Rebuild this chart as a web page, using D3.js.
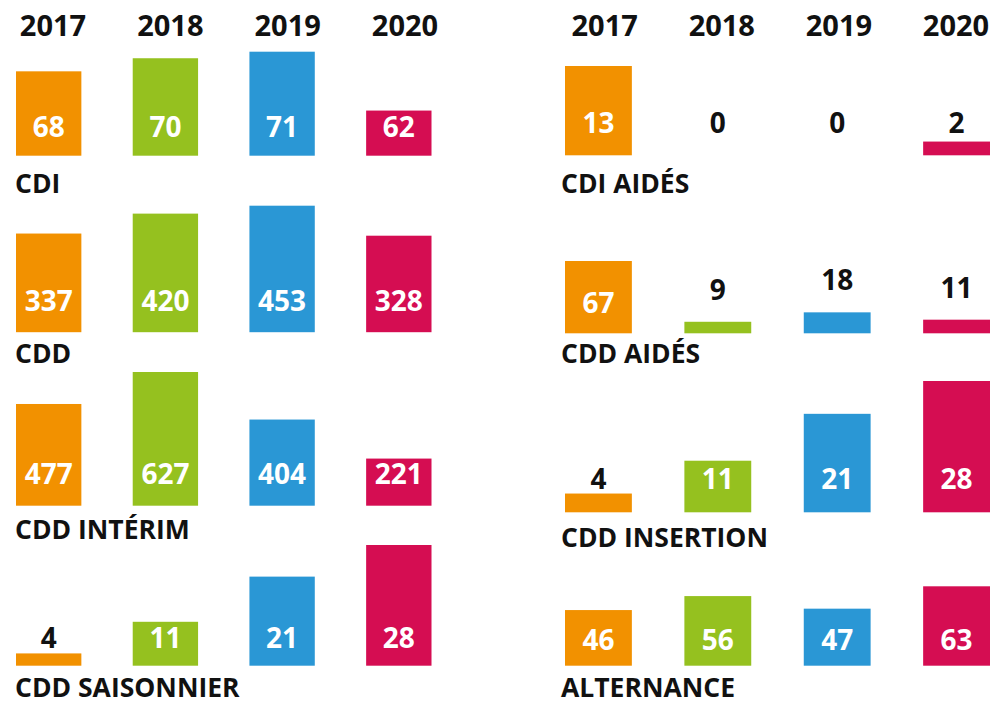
<!DOCTYPE html>
<html>
<head>
<meta charset="utf-8">
<script src="https://cdn.jsdelivr.net/npm/d3@7"></script>
<style>
    body { margin: 0; background: #fff; }
    text { font-family: "Open Sans", "Noto Sans", sans-serif; font-weight: 700; }
</style>
</head>
<body>
<div id="chart"></div>
<script>
// data
const years = ["2017", "2018", "2019", "2020"];
const leftCategories = ["CDI", "CDD", "CDD INTÉRIM", "CDD SAISONNIER"];
const rightCategories = ["CDI AIDÉS", "CDD AIDÉS", "CDD INSERTION", "ALTERNANCE"];

const cdiValues = [68, 70, 71, 62];
const cddValues = [337, 420, 453, 328];
const cddInterimValues = [477, 627, 404, 221];
const cddSaisonnierValues = [4, 11, 21, 28];

const cdiAidesValues = [13, 0, 0, 2];
const cddAidesValues = [67, 9, 18, 11];
const cddInsertionValues = [4, 11, 21, 28];
const alternanceValues = [46, 56, 47, 63];

const yearColors = ["#f29100", "#95c11f", "#2a97d5", "#d50d52"];

// layout (each row has its own vertical scale)
const width = 991, height = 701;

let panels = [
    {
        categories: leftCategories,
        series: [cdiValues, cddValues, cddInterimValues, cddSaisonnierValues],
        barRange: [16, 431.5],
        headerRange: [53, 405],
        labelX: 15,
        bottoms: [155.7, 332.2, 505.7, 665.7],
        labelY: [192.7, 363.3, 539.3, 697],
        axisMin: [55.1, -74, 0, 1.28],
        maxHeight: [104, 126.5, 133.7, 120.7],
        valueOffset: [19, 21, 22, 17.5],
        outsideGap: [5, 5, 5, 5]
    },
    {
        categories: rightCategories,
        series: [cdiAidesValues, cddAidesValues, cddInsertionValues, alternanceValues],
        barRange: [565, 990],
        headerRange: [604.7, 956],
        labelX: 561,
        bottoms: [155.3, 333.3, 512.3, 665.7],
        labelY: [192.7, 363.3, 547.3, 697],
        axisMin: [0, -2, 0, 6.2],
        maxHeight: [89.3, 72.3, 131.3, 79.4],
        valueOffset: [22, 20, 23, 16],
        outsideGap: [5, 22, 5, 5]
    }
];

let svg = d3.select("#chart")
    .append("svg")
    .attr("width", width)
    .attr("height", height);

panels.forEach(drawPanel);

function drawPanel(p) {
    const x = d3.scaleBand()
        .domain(years)
        .range(p.barRange)
        .paddingInner(0.44)
        .paddingOuter(0);

    const xHeader = d3.scalePoint()
        .domain(years)
        .range(p.headerRange);

    const g = svg.append("g");

    // year headers
    g.selectAll(".year")
        .data(years)
        .enter()
        .append("text")
        .attr("class", "year")
        .attr("x", d => xHeader(d))
        .attr("y", 36)
        .attr("text-anchor", "middle")
        .style("font-size", "29px")
        .style("fill", "#111")
        .text(d => d);

    p.series.forEach(function (values, i) {
        const bottom = p.bottoms[i];
        const y = d3.scaleLinear()
            .domain([p.axisMin[i], d3.max(values)])
            .range([bottom, bottom - p.maxHeight[i]]);

        const rows = values.map((v, j) => ({year: years[j], value: v, color: yearColors[j]}));
        const top = d => Math.min(bottom, y(d.value));

        const row = g.append("g");

        row.selectAll("rect")
            .data(rows)
            .enter()
            .append("rect")
            .attr("x", d => x(d.year))
            .attr("y", d => top(d))
            .attr("width", x.bandwidth())
            .attr("height", d => bottom - top(d))
            .style("fill", d => d.color);

        row.selectAll(".value")
            .data(rows)
            .enter()
            .append("text")
            .attr("class", "value")
            .attr("x", d => x(d.year) + x.bandwidth() / 2)
            .attr("y", function (d) {
                const inside = bottom - p.valueOffset[i];
                if (bottom - top(d) > 35) {
                    return inside;
                }
                return Math.min(inside, top(d) - p.outsideGap[i]);
            })
            .attr("text-anchor", "middle")
            .style("font-size", "28px")
            .style("fill", d => (bottom - top(d) > 35) ? "#fff" : "#111")
            .text(d => d.value);

        // category name under the row
        row.append("text")
            .attr("x", p.labelX)
            .attr("y", p.labelY[i])
            .style("font-size", "26.5px")
            .style("fill", "#111")
            .text(p.categories[i]);
    });
}
</script>
</body>
</html>
